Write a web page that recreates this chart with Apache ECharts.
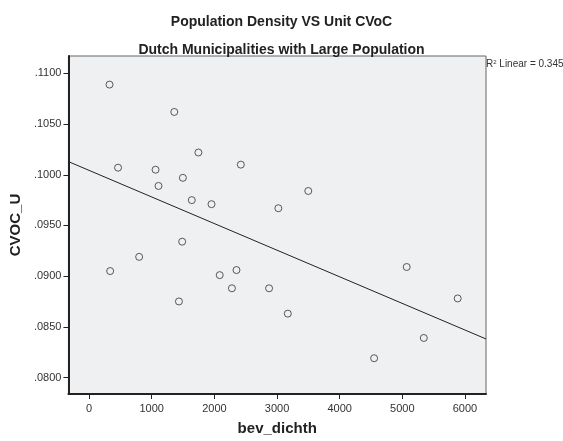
<!DOCTYPE html>
<html>
<head>
<meta charset="utf-8">
<script src="https://cdn.jsdelivr.net/npm/echarts@6/dist/echarts.min.js"></script>
<style>
  html, body { margin: 0; padding: 0; background: #fff; }
  #chart { width: 563px; height: 441px; }
</style>
</head>
<body>
<div id="chart"></div>
<script>
// population density (x) vs unit CVoC (y), one point per municipality
const bevDichth = [326, 1360, 1745, 462, 1061, 1497, 1108, 1639, 1486, 2422, 3499, 1954, 3021,
  336, 799, 1434, 2085, 2353, 2280, 2873, 3172, 4550, 5070, 5884, 5343]
const cvocU = [0.1089, 0.1062, 0.1022, 0.1007, 0.1005, 0.0997, 0.0989, 0.0975, 0.0934, 0.1010, 0.0984, 0.0971, 0.0967,
  0.0905, 0.0919, 0.0875, 0.0901, 0.0906, 0.0888, 0.0888, 0.0863, 0.0819, 0.0909, 0.0878, 0.0839]

const fitX = [-330, 6336]
const fitY = [0.1013, 0.0838]
const rSquared = 0.345

const xTicks = [0, 1000, 2000, 3000, 4000, 5000, 6000]
const yTicks = [0.08, 0.085, 0.09, 0.095, 0.1, 0.105, 0.11]
const xRange = [-330, 6336]
const yRange = [0.07837, 0.11172]

const points = bevDichth.map((x, i) => [x, cvocU[i]])
const fitLine = fitX.map((x, i) => [x, fitY[i]])

const font = '"Liberation Sans", Arial, sans-serif'
const chart = echarts.init(document.getElementById('chart'))

chart.setOption({
  animation: false,
  title: [
    {
      text: 'Population Density VS Unit CVoC',
      left: 'center', top: 10,
      textStyle: { fontFamily: font, fontSize: 14, fontWeight: 'bold', color: '#222' },
    },
    {
      text: 'Dutch Municipalities with Large Population',
      left: 'center', top: 38,
      textStyle: { fontFamily: font, fontSize: 14, fontWeight: 'bold', color: '#222' },
    },
  ],
  grid: {
    left: 63, right: 77, top: 56, bottom: 43,
    show: true,
    backgroundColor: '#eff0f2',
    borderColor: '#666',
    borderWidth: 1,
  },
  xAxis: {
    type: 'value',
    min: xRange[0], max: xRange[1],
    name: 'bev_dichth',
    nameLocation: 'middle',
    nameGap: 27,
    nameTextStyle: { fontFamily: font, fontSize: 15, fontWeight: 'bold', color: '#222' },
    axisLine: { show: true, onZero: false, lineStyle: { color: '#222', width: 2 } },
    axisTick: { show: true, length: 5, customValues: xTicks, lineStyle: { color: '#222' } },
    axisLabel: {
      customValues: xTicks,
      margin: 9,
      fontFamily: font, fontSize: 11, color: '#333',
      formatter: (v) => String(v),
    },
    splitLine: { show: false },
  },
  yAxis: {
    type: 'value',
    min: yRange[0], max: yRange[1],
    name: 'CVOC_U',
    nameLocation: 'middle',
    nameRotate: 90,
    nameGap: 36,
    nameTextStyle: { fontFamily: font, fontSize: 15, fontWeight: 'bold', color: '#222' },
    axisLine: { show: true, onZero: false, lineStyle: { color: '#222', width: 2 } },
    axisTick: { show: true, length: 5, customValues: yTicks, lineStyle: { color: '#222' } },
    axisLabel: {
      customValues: yTicks,
      margin: 7,
      fontFamily: font, fontSize: 11, color: '#333',
      formatter: (v) => v.toFixed(4).replace(/^0/, ''),
    },
    splitLine: { show: false },
  },
  graphic: [{
    type: 'text',
    left: 486, top: 59,
    style: {
      text: '{r|R}{sup|2}{r| Linear = ' + rSquared + '}',
      rich: {
        r: { fontFamily: font, fontSize: 10, fill: '#333', verticalAlign: 'bottom' },
        sup: { fontFamily: font, fontSize: 6, fill: '#333', verticalAlign: 'top' },
      },
    },
  }],
  series: [
    {
      type: 'line',
      data: fitLine,
      showSymbol: false,
      lineStyle: { color: '#222', width: 1 },
      silent: true,
    },
    {
      type: 'scatter',
      data: points,
      symbol: 'circle',
      symbolSize: 7,
      itemStyle: { color: 'rgba(0,0,0,0)', borderColor: '#333', borderWidth: 1 },
    },
  ],
})
</script>
</body>
</html>
